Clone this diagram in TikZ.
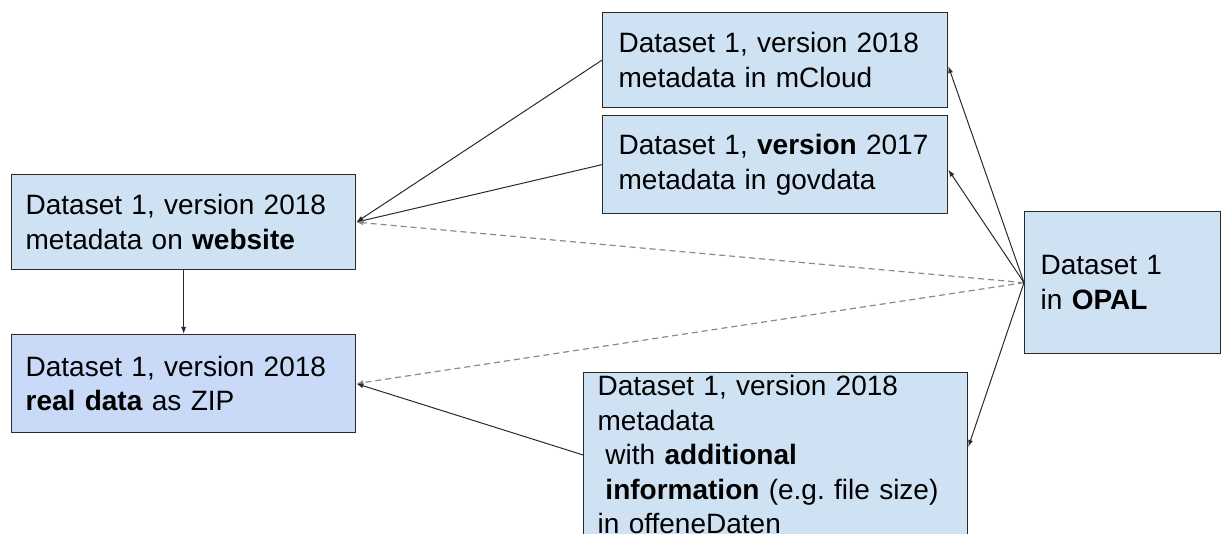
\documentclass[tikz,border=0pt]{standalone}
\usepackage{fontspec}
\setmainfont{Liberation Sans}
\usetikzlibrary{arrows.meta}
\definecolor{boxblue}{HTML}{CFE2F3}
\definecolor{boxblueB}{HTML}{C9DAF8}
\definecolor{edge}{HTML}{2A2A2A}
\definecolor{dashgrey}{HTML}{8A8A8A}
\begin{document}
\begin{tikzpicture}[x=1pt,y=-1pt,
  box/.style={draw=edge, fill=boxblue, line width=1.3pt, anchor=north west,
    align=left, inner xsep=14pt, inner ysep=0pt,
    font=\fontsize{28}{34.5}\selectfont},
  conn/.style={draw=edge, line width=1pt, -{Latex[length=7pt,width=5pt]}},
  dconn/.style={draw=dashgrey, line width=1.2pt, dash pattern=on 6pt off 4pt, -{Latex[length=7pt,width=5pt]}}
]
\useasboundingbox (0,0) rectangle (1224,534);
\node[box, text width=316pt, minimum width=344pt, minimum height=95pt] (A) at (11,174)
  {Dataset 1, version 2018\\metadata on \textbf{website}};
\node[box, fill=boxblueB, text width=316pt, minimum width=344pt, minimum height=98pt] (B) at (11,334)
  {Dataset 1, version 2018\\\textbf{real data} as ZIP};
\node[box, inner xsep=16pt, text width=313pt, minimum width=345pt, minimum height=95pt] (C) at (602,12)
  {Dataset 1, version 2018\\metadata in mCloud};
\node[box, inner xsep=16pt, text width=313pt, minimum width=345pt, minimum height=98pt] (D) at (602,115)
  {Dataset 1, \textbf{version} 2017\\metadata in govdata};
\node[box, inner ysep=3pt, text width=356pt, minimum width=384pt] (E) at (583,372)
  {Dataset 1, version 2018\\metadata\\\hspace*{0.28em}with \textbf{additional}\\\hspace*{0.28em}\textbf{information} (e.g.\ file size)\\in offeneDaten};
\node[box, inner xsep=16pt, text width=164pt, minimum width=196pt, minimum height=142pt] (F) at (1024,211)
  {Dataset 1\\in \textbf{OPAL}};
\draw[conn] (C.west) -- (A.east);
\draw[conn] (D.west) -- (A.east);
\draw[dconn] (F.west) -- (A.east);
\draw[dconn] (F.west) -- (B.east);
\draw[conn] (E.west) -- (B.east);
\draw[conn] (A.south) -- (B.north);
\draw[conn] (F.west) -- ([yshift=-6pt]C.east);
\draw[conn] (F.west) -- ([yshift=-5pt]D.east);
\draw[conn] (F.west) -- ([yshift=8pt]E.east);
\end{tikzpicture}
\end{document}
